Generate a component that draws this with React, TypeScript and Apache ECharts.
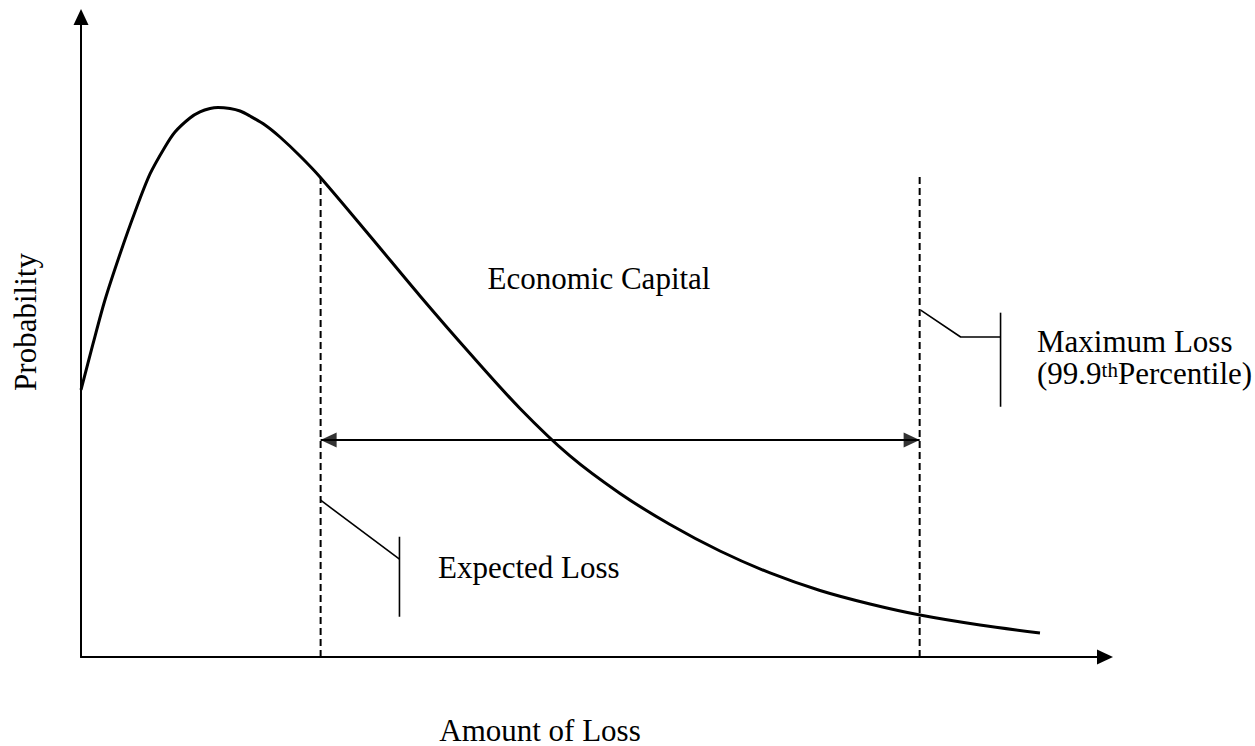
import React, { useEffect, useRef } from "react";
import * as echarts from "echarts";

// Loss distribution curve (amount of loss vs probability), arbitrary units
const curveX = [0, 1.17, 2.34, 3.81, 5.27, 6.74, 8.2, 9.18, 10.64, 11.62, 12.6, 13.38, 14.55, 15.53, 16.5, 17.97, 19.43, 21.39, 23.34, 28.22, 33.11, 37.99, 42.87, 47.75, 52.64, 57.52, 62.4, 67.29, 72.17, 77.05, 81.93, 87.79, 93.65];
const curveY = [41.72, 48.91, 55.78, 62.97, 69.53, 75.47, 79.69, 82.03, 84.22, 85.16, 85.7, 85.86, 85.7, 85.31, 84.53, 83.13, 81.25, 78.28, 75.0, 65.78, 56.41, 47.42, 38.83, 31.41, 25.55, 20.7, 16.56, 13.13, 10.39, 8.28, 6.56, 5.0, 3.75];

// Key loss levels
const expectedLossX = 23.4;
const expectedLossTopY = 75.0;
const maxLossX = 81.9;
const maxLossTopY = 75.3;
const capitalArrowY = 33.9;

// Leader (callout) lines
const elLeaderX = [23.4, 31.1];
const elLeaderY = [24.5, 15.3];
const elBarX = [31.1, 31.1];
const elBarY = [18.8, 6.3];
const mlLeaderX = [82.0, 85.9, 89.8];
const mlLeaderY = [54.2, 50.0, 50.0];
const mlBarX = [89.8, 89.8];
const mlBarY = [53.8, 39.1];

const FONT = '"Liberation Serif", "Times New Roman", serif';
const FS = 31;

const zip = (xs: number[], ys: number[]) => xs.map((x, i) => [x, ys[i]]);

export default function App() {
  const ref = useRef<HTMLDivElement>(null);
  useEffect(() => {
    if (!ref.current) return;
    const chart = echarts.init(ref.current, undefined, { renderer: "svg" });
    const thin = { color: "#000", width: 1.6 };
    const thinLine = (data: number[][]) => ({
      type: "line",
      data,
      showSymbol: false,
      silent: true,
      lineStyle: thin,
    });
    const dashed = (x: number, top: number) => ({
      type: "line",
      data: [[x, 0], [x, top]],
      showSymbol: false,
      silent: true,
      lineStyle: { color: "#000", width: 2, type: [7, 4] },
    });
    const txt = (x: number, y: number, text: string, align: string) => ({
      type: "text",
      x,
      y,
      style: {
        text,
        font: `${FS}px ${FONT}`,
        fill: "#000",
        textAlign: align,
        textVerticalAlign: "middle",
        lineHeight: 24,
      },
    });
    chart.setOption({
      animation: false,
      backgroundColor: "#fff",
      grid: { left: 81, right: 150, top: 17, bottom: 89 },
      xAxis: {
        type: "value",
        min: 0,
        max: 100,
        axisLine: {
          show: true,
          onZero: false,
          symbol: ["none", "triangle"],
          symbolSize: [15, 16],
          lineStyle: { color: "#000", width: 2 },
        },
        axisTick: { show: false },
        axisLabel: { show: false },
        splitLine: { show: false },
      },
      yAxis: {
        type: "value",
        min: 0,
        max: 100,
        axisLine: {
          show: true,
          onZero: false,
          symbol: ["none", "triangle"],
          symbolSize: [15, 16],
          lineStyle: { color: "#000", width: 2 },
        },
        axisTick: { show: false },
        axisLabel: { show: false },
        splitLine: { show: false },
      },
      series: [
        {
          type: "line",
          data: zip(curveX, curveY),
          smooth: 0.3,
          showSymbol: false,
          lineStyle: { color: "#000", width: 3 },
        },
        dashed(expectedLossX, expectedLossTopY),
        dashed(maxLossX, maxLossTopY),
        {
          type: "line",
          data: [[expectedLossX, capitalArrowY], [maxLossX, capitalArrowY]],
          showSymbol: false,
          lineStyle: { color: "#000", width: 2 },
        },
        {
          type: "scatter",
          data: [[expectedLossX, capitalArrowY]],
          symbol: "triangle",
          symbolSize: [15, 16],
          symbolRotate: 90,
          symbolOffset: [8, 0],
          itemStyle: { color: "#000" },
        },
        {
          type: "scatter",
          data: [[maxLossX, capitalArrowY]],
          symbol: "triangle",
          symbolSize: [15, 16],
          symbolRotate: -90,
          symbolOffset: [-8, 0],
          itemStyle: { color: "#000" },
        },
        thinLine(zip(elLeaderX, elLeaderY)),
        thinLine(zip(elBarX, elBarY)),
        thinLine(zip(mlLeaderX, mlLeaderY)),
        thinLine(zip(mlBarX, mlBarY)),
      ],
      graphic: [
        {
          type: "text",
          x: 25,
          y: 322,
          rotation: Math.PI / 2,
          style: { text: "Probability", font: `${FS}px ${FONT}`, fill: "#000", textAlign: "center", textVerticalAlign: "middle", lineHeight: 24 },
        },
        txt(540, 730, "Amount of Loss", "center"),
        txt(599, 278, "Economic Capital", "center"),
        txt(438, 567, "Expected Loss", "left"),
        txt(1037, 341, "Maximum Loss", "left"),
        {
          type: "text",
          x: 1037,
          y: 373,
          style: {
            text: "{n|(99.9}{s|th}{n|Percentile)}",
            textAlign: "left",
            textVerticalAlign: "middle",
            fill: "#000",
            rich: {
              n: { fontSize: FS, fontFamily: FONT, fill: "#000", lineHeight: 28 },
              s: { fontSize: 21, fontFamily: FONT, fill: "#000", verticalAlign: "top", lineHeight: 28 },
            },
          },
        },
      ],
    });
    return () => chart.dispose();
  }, []);
  return (
    <div
      ref={ref}
      style={{ position: "fixed", left: 0, top: 0, width: 1255, height: 746, background: "#fff" }}
    />
  );
}
